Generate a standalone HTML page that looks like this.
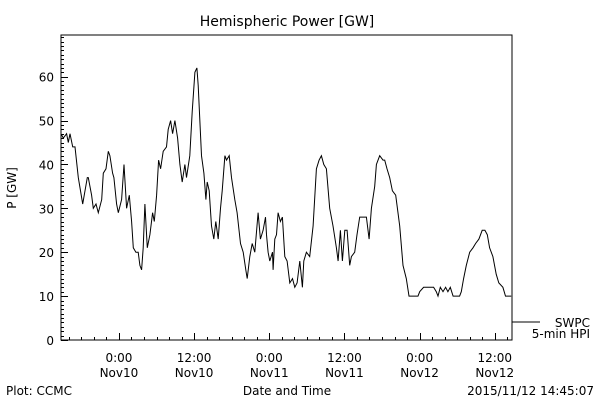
<!DOCTYPE html>
<html><head><meta charset="utf-8"><style>
body{margin:0;background:#fff}
svg{display:block;font-family:"DejaVu Sans","Liberation Sans",sans-serif}
text{fill:#000}
</style></head><body>
<svg id="c" width="600" height="400">
<text x="287" y="26" font-size="14" text-anchor="middle">Hemispheric Power [GW]</text>
<text x="16" y="188" font-size="12" text-anchor="middle" transform="rotate(-90 16 188)">P [GW]</text>
<text x="287" y="395" font-size="12" text-anchor="middle">Date and Time</text>
<text x="6" y="395" font-size="12">Plot: CCMC</text>
<text x="594" y="395" font-size="12" text-anchor="end">2015/11/12 14:45:07</text>
<rect x="61" y="35" width="451" height="305" fill="none" stroke="#000" stroke-width="1"/>
<g id="axes"></g>
<path id="line" fill="none" stroke="#000" stroke-width="1"/>
<line x1="512" y1="322" x2="540" y2="322" stroke="#000"/>
<text x="590" y="327" font-size="12" text-anchor="end">SWPC</text>
<text x="590" y="338" font-size="12" text-anchor="end">5-min HPI</text>
</svg>
<script>
const hours=[-9.25,-8.88,-8.35,-8.08,-7.81,-7.39,-7.02,-6.49,-5.79,-5.05,-4.89,-4.36,-4.09,-3.67,-3.30,-2.76,-2.50,-2.07,-1.70,-1.44,-1.01,-0.80,-0.37,-0.11,0.43,0.80,1.22,1.65,2.02,2.29,2.71,3.08,3.35,3.62,3.88,4.15,4.52,4.94,5.37,5.64,6.01,6.33,6.65,7.07,7.60,7.87,8.24,8.56,8.93,9.36,9.73,10.10,10.53,10.79,11.32,11.70,12.12,12.44,12.65,13.18,13.56,13.88,14.09,14.41,14.78,15.15,15.47,15.84,16.21,16.48,16.91,17.17,17.60,17.97,18.50,18.87,19.40,19.83,20.26,20.47,20.89,21.27,21.69,22.22,22.59,23.02,23.39,23.55,23.82,24.08,24.51,24.61,24.88,25.15,25.41,25.78,26.10,26.48,26.85,27.27,27.70,28.07,28.44,28.87,29.29,29.51,29.93,30.46,30.99,31.53,31.95,32.32,32.70,33.12,33.65,34.18,34.72,34.98,35.35,35.67,36.05,36.42,36.84,37.11,37.64,38.01,38.44,38.97,39.23,39.50,39.93,40.30,40.83,41.10,41.63,42.16,42.42,42.80,43.22,43.65,44.18,44.82,45.35,45.88,46.31,46.94,47.37,47.74,48.01,48.64,49.87,50.24,50.66,50.93,51.30,51.73,52.15,52.52,52.90,53.35,53.85,54.39,54.65,55.02,55.45,55.99,56.52,56.94,57.47,58.00,58.43,58.80,59.17,59.70,60.23,60.65,61.29,61.72,62.36,62.62];
const power=[47,46,47,45,47,44,44,37,31,37,37,33,30,31,29,32,38,39,43,42,38,37,31,29,32,40,30,33,27,21,20,20,17,16,21,31,21,24,29,27,33,41,39,43,44,48,50,47,50,46,40,36,40,37,42,52,61,62,58,42,38,32,36,34,26,23,27,23,30,34,42,41,42,37,32,29,22,20,16,14,19,22,20,29,23,25,28,24,20,18,20,16,23,24,29,27,28,19,18,13,14,12,13,18,12,18,20,19,26,39,41,42,40,39,30,26,21,18,25,18,25,25,17,19,20,24,28,28,28,28,23,30,35,40,42,41,41,39,37,34,33,26,17,14,10,10,10,10,11,12,12,12,11,10,12,11,12,11,12,10,10,10,11,14,17,20,21,22,23,25,25,24,21,19,15,13,12,10,10,10];
const yTicks=[0,10,20,30,40,50,60];
const xTickHours=[0,12,24,36,48,60];
const xTickTimes=["0:00","12:00","0:00","12:00","0:00","12:00"];
const xTickDates=["Nov10","Nov10","Nov11","Nov11","Nov12","Nov12"];
const X0=61,X1=512,Y0=340,Y1=35,HMIN=-9.25,HMAX=62.75,VMIN=0,VMAX=69.5;
const sx=h=>X0+(h-HMIN)/(HMAX-HMIN)*(X1-X0);
const sy=v=>Y0-(v-VMIN)/(VMAX-VMIN)*(Y0-Y1);
const NS="http://www.w3.org/2000/svg";
const g=document.getElementById('axes');
function mk(t,a){const e=document.createElementNS(NS,t);for(const k in a)e.setAttribute(k,a[k]);g.appendChild(e);return e;}
for(let v=0;v<=69;v++){
  const y=Math.round(sy(v))+0.5;const len=v%10===0?7:3;
  const t=mk('line',{x1:X0,y1:y,x2:X0+len,y2:y,stroke:'#000'});
  
  
}
yTicks.forEach(v=>{
  const t=mk('text',{x:54,y:sy(v)+5,'font-size':12,'text-anchor':'end'});
  t.textContent=v;
  
  
});
for(let h=-8;h<=62;h+=2){
  const x=Math.round(sx(h))+0.5;const len=h%12===0?7:3;
  const t=mk('line',{x1:x,y1:Y0,x2:x,y2:Y0-len,stroke:'#000'});
  
  
}
xTickHours.forEach((h,i)=>{
  const a=mk('text',{x:sx(h),y:362,'font-size':12,'text-anchor':'middle'});
  a.textContent=xTickTimes[i];
  
  
  const b=mk('text',{x:sx(h),y:377,'font-size':12,'text-anchor':'middle'});
  b.textContent=xTickDates[i];
  
  
});
document.getElementById('line').setAttribute('d',hours.map((h,i)=>(i?'L':'M')+sx(h).toFixed(1)+' '+sy(power[i]).toFixed(1)).join(' '));
</script>
</body></html>
